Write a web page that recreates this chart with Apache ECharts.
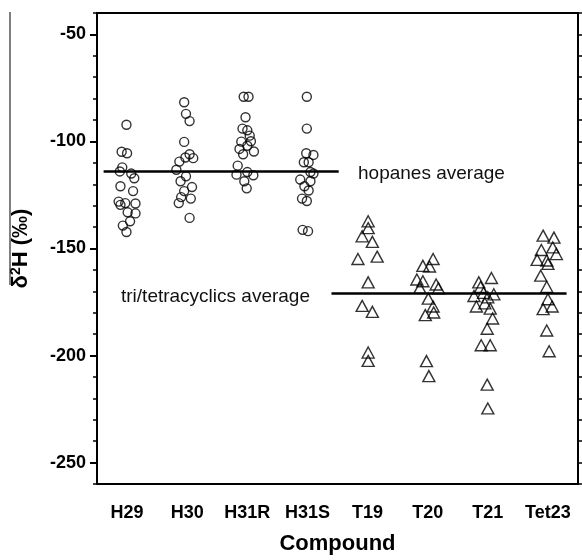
<!DOCTYPE html>
<html>
<head>
<meta charset="utf-8">
<script src="https://cdn.jsdelivr.net/npm/echarts@6/dist/echarts.min.js"></script>
<style>
  html, body { margin: 0; padding: 0; background: #fff; }
  #chart { width: 582px; height: 560px; }
</style>
</head>
<body>
<div id="chart"></div>
<script>
// categories on the x axis
const compounds = ["H29", "H30", "H31R", "H31S", "T19", "T20", "T21", "Tet23"];
const yTicks = [-250, -200, -150, -100, -50];

// each point: [jitter in category widths, δ2H value]
const h29 = [[-0.01, -92.2], [-0.09, -104.8], [0.0, -105.5], [-0.08, -112.1], [-0.12, -114.0],
  [0.07, -115.0], [0.12, -117.2], [-0.11, -120.9], [0.10, -123.2], [-0.14, -128.1],
  [-0.03, -128.8], [0.14, -129.0], [-0.11, -129.6], [0.01, -133.1], [0.14, -133.6],
  [0.05, -137.3], [-0.07, -139.3], [-0.01, -142.3]];
const h30 = [[-0.05, -81.7], [-0.02, -87.1], [0.04, -90.5], [-0.05, -100.2], [0.04, -106.0],
  [-0.03, -107.5], [0.10, -107.8], [-0.13, -109.4], [-0.18, -113.2], [-0.02, -116.3],
  [-0.11, -118.6], [0.08, -121.3], [-0.05, -123.2], [0.06, -126.7], [-0.10, -126.0],
  [-0.14, -128.8], [0.04, -135.7]];
const h31r = [[-0.06, -79.1], [0.02, -79.1], [-0.03, -88.7], [-0.08, -94.0], [0.0, -94.8],
  [0.04, -97.3], [-0.10, -100.1], [0.06, -99.9], [0.0, -102.0], [-0.13, -103.5],
  [0.11, -104.7], [-0.07, -106.0], [-0.16, -111.3], [-0.18, -115.5], [0.0, -114.3],
  [0.10, -115.8], [-0.05, -118.6], [-0.01, -121.9]];
const h31s = [[-0.01, -79.1], [-0.01, -94.0], [-0.02, -105.5], [0.10, -106.3], [-0.06, -109.7],
  [0.02, -109.7], [0.10, -115.0], [0.05, -114.3], [-0.12, -117.8], [0.05, -118.6],
  [-0.05, -120.9], [0.02, -122.9], [-0.09, -126.7], [-0.01, -127.8], [-0.08, -141.3],
  [0.01, -141.9]];
const t19 = [[0.01, -137.3], [0.01, -140.5], [-0.09, -144.3], [0.08, -146.9], [-0.16, -154.9],
  [0.16, -153.8], [0.01, -165.8], [-0.09, -176.8], [0.08, -179.6], [0.01, -198.6],
  [0.01, -202.5]];
const t20 = [[0.09, -154.9], [-0.08, -158.1], [0.03, -158.4], [-0.18, -164.5], [-0.08, -165.3],
  [-0.13, -168.4], [0.14, -166.8], [0.18, -168.6], [0.01, -173.4], [0.09, -177.1],
  [-0.04, -181.1], [0.10, -179.9], [-0.02, -202.6], [0.02, -209.6]];
const t21 = [[-0.15, -165.8], [0.06, -163.8], [-0.12, -168.0], [-0.23, -172.2], [-0.07, -170.7],
  [0.10, -171.4], [0.0, -172.8], [-0.19, -177.1], [-0.05, -175.6], [0.04, -178.1],
  [0.08, -182.7], [-0.01, -187.5], [-0.11, -195.2], [0.04, -195.2], [-0.01, -213.6],
  [0.0, -224.7]];
const tet23 = [[-0.08, -144.0], [0.10, -144.9], [-0.11, -150.7], [0.08, -149.5], [0.14, -152.6],
  [-0.18, -155.3], [-0.02, -155.6], [0.0, -157.2], [-0.12, -162.7], [-0.02, -167.9],
  [0.0, -173.7], [-0.08, -178.3], [0.07, -177.1], [-0.02, -188.3], [0.02, -198.0]];

// group averages and the x extent (in category index) of their lines
const hopanesAvg = -114;
const hopanesSpan = [-0.39, 3.52];
const triAvg = -171;
const triSpan = [3.4, 7.31];

const hopanes = [h29, h30, h31r, h31s];
const tricyclics = [t19, t20, t21, tet23];

const font = "'Liberation Sans', Arial, sans-serif";

function toPoints(groups, offset) {
  const out = [];
  groups.forEach((g, i) => {
    g.forEach((p) => out.push([offset + i + p[0], p[1]]));
  });
  return out;
}

const chart = echarts.init(document.getElementById("chart"));

const option = {
  animation: false,
  backgroundColor: "#fff",
  grid: { left: 97, right: 4, top: 13, bottom: 68, containLabel: false },
  xAxis: [
    {
      type: "category",
      data: compounds,
      position: "bottom",
      boundaryGap: true,
      axisLine: { onZero: false, lineStyle: { color: "#000", width: 2 } },
      axisTick: { alignWithLabel: true, length: 8, lineStyle: { color: "#000", width: 2 } },
      axisLabel: { interval: 0, color: "#000", fontFamily: font, fontWeight: "bold", fontSize: 18, margin: 20 },
      splitLine: { show: false },
      name: "Compound",
      nameLocation: "middle",
      nameGap: 49,
      nameTextStyle: { color: "#000", fontFamily: font, fontWeight: "bold", fontSize: 22 },
    },
    {
      type: "value",
      min: -0.5,
      max: 7.5,
      position: "top",
      axisLine: { show: true, onZero: false, lineStyle: { color: "#000", width: 2 } },
      axisTick: { show: false },
      axisLabel: { show: false },
      splitLine: { show: false },
    },
  ],
  yAxis: [
    {
      type: "value",
      min: -260,
      max: -40,
      position: "left",
      axisLine: { show: true, onZero: false, lineStyle: { color: "#000", width: 2 } },
      axisTick: { show: true, customValues: yTicks, length: 7, lineStyle: { color: "#000", width: 2 } },
      axisLabel: { customValues: yTicks, color: "#000", fontFamily: font, fontWeight: "bold", fontSize: 18, margin: 11 },
      splitLine: { show: false },
      name: "δ{sup|2}H (‰)",
      nameLocation: "middle",
      nameRotate: 90,
      nameGap: 64,
      nameTextStyle: {
        color: "#000",
        fontFamily: font,
        fontWeight: "bold",
        fontSize: 22,
        rich: {
          sup: { fontFamily: font, fontWeight: "bold", fontSize: 14, padding: [0, 0, 10, 0], color: "#000" },
        },
      },
    },
    {
      // minor ticks on the left
      type: "value",
      min: -260,
      max: -40,
      interval: 10,
      position: "left",
      axisLine: { show: false, onZero: false },
      axisTick: { show: true, length: 4, lineStyle: { color: "#000", width: 1.5 } },
      axisLabel: { show: false },
      splitLine: { show: false },
    },
    {
      // mirrored ticks on the right frame
      type: "value",
      min: -260,
      max: -40,
      interval: 10,
      position: "right",
      axisLine: { show: true, onZero: false, lineStyle: { color: "#000", width: 2 } },
      axisTick: { show: true, length: 4, lineStyle: { color: "#000", width: 1.5 } },
      axisLabel: { show: false },
      splitLine: { show: false },
    },
  ],
  series: [
    {
      name: "hopanes",
      type: "scatter",
      xAxisIndex: 1,
      yAxisIndex: 0,
      symbol: "circle",
      symbolSize: 9,
      itemStyle: { color: "rgba(255,255,255,0)", borderColor: "#000", borderWidth: 1.4 },
      data: toPoints(hopanes, 0),
      z: 3,
    },
    {
      name: "tri/tetracyclics",
      type: "scatter",
      xAxisIndex: 1,
      yAxisIndex: 0,
      symbol: "triangle",
      symbolSize: [12, 11],
      itemStyle: { color: "rgba(255,255,255,0)", borderColor: "#000", borderWidth: 1.4 },
      data: toPoints(tricyclics, 4),
      z: 3,
    },
    {
      name: "hopanes average",
      type: "line",
      xAxisIndex: 1,
      yAxisIndex: 0,
      symbol: "none",
      lineStyle: { color: "#000", width: 2.5 },
      data: [[hopanesSpan[0], hopanesAvg], [hopanesSpan[1], hopanesAvg]],
      z: 2,
    },
    {
      name: "tri/tetracyclics average",
      type: "line",
      xAxisIndex: 1,
      yAxisIndex: 0,
      symbol: "none",
      lineStyle: { color: "#000", width: 2.5 },
      data: [[triSpan[0], triAvg], [triSpan[1], triAvg]],
      z: 2,
    },
  ],
  graphic: [
    {
      type: "text",
      x: 358,
      y: 174,
      style: { text: "hopanes average", fill: "#111", font: "19px " + font, verticalAlign: "middle" },
    },
    {
      type: "text",
      x: 121,
      y: 297,
      style: { text: "tri/tetracyclics average", fill: "#111", font: "19px " + font, verticalAlign: "middle" },
    },
    {
      // thin rule at the far left of the original figure
      type: "line",
      shape: { x1: 10, y1: 12, x2: 10, y2: 285 },
      style: { stroke: "#000", lineWidth: 1 },
    },
  ],
};

chart.setOption(option);
</script>
</body>
</html>
